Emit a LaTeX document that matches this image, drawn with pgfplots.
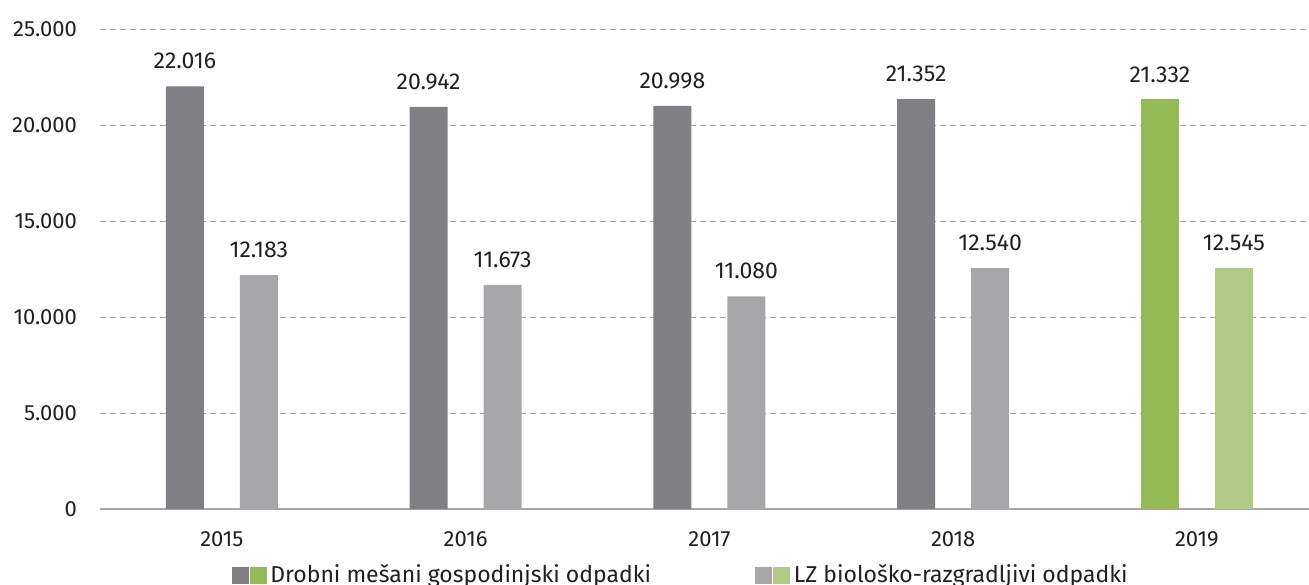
\documentclass[border=0pt]{standalone}
\usepackage{fontspec}
\setmainfont{Fira Sans}
\usepackage{pgfplots}
\pgfplotsset{compat=1.18}

\definecolor{darkgr}{HTML}{808084}
\definecolor{lightgr}{HTML}{A7A7AA}
\definecolor{greenA}{HTML}{94BB56}
\definecolor{greenB}{HTML}{B0C986}
\definecolor{txt}{HTML}{231F20}

\begin{document}
\begin{tikzpicture}
\begin{axis}[
  scale only axis, width=604.5pt, height=240pt,
  xmin=-0.5, xmax=4.46, ymin=0, ymax=25000,
  ybar, bar width=19pt,
  axis lines*=left,
  y axis line style={draw=none},
  x axis line style={draw=black!35, line width=0.8pt},
  major tick length=0pt,
  xtick={0,1,2,3,4}, xticklabels={2015,2016,2017,2018,2019},
  ytick distance=5000,
  scaled y ticks=false,
  yticklabel style={/pgf/number format/fixed, /pgf/number format/1000 sep={.},
    /pgf/number format/assume math mode=true, xshift=-8pt},
  ymajorgrids, grid style={densely dashed, black!35, line width=0.4pt},
  tick label style={font=\fontsize{11}{13}\selectfont, text=txt},
  xticklabel style={yshift=-7.5pt},
  point meta=explicit symbolic,
  nodes near coords,
  every node near coord/.append style={font=\fontsize{11.5}{13}\selectfont, text=txt, yshift=5pt},
  legend style={at={(0.1085,-0.1375)}, anchor=west, draw=none, inner sep=0pt,
    font=\fontsize{11.5}{13}\selectfont, text=txt, legend columns=2,
    /tikz/every even column/.append style={column sep=50pt}},
  legend cell align=left,
]
\addplot[fill=darkgr, draw=none, bar shift=-18.5pt, forget plot] coordinates
  {(0,22016) [22.016] (1,20942) [20.942] (2,20998) [20.998] (3,21352) [21.352]};
\addplot[fill=greenA, draw=none, bar shift=-18.5pt, forget plot] coordinates
  {(4,21332) [21.332]};
\addplot[fill=lightgr, draw=none, bar shift=18.5pt, forget plot] coordinates
  {(0,12183) [12.183] (1,11673) [11.673] (2,11080) [11.080] (3,12540) [12.540]};
\addplot[fill=greenB, draw=none, bar shift=18.5pt, forget plot] coordinates
  {(4,12545) [12.545]};
\addlegendimage{legend image code/.code={
  \fill[darkgr] (0pt,-4pt) rectangle (8pt,4pt);
  \fill[greenA] (9pt,-4pt) rectangle (17pt,4pt);}}
\addlegendentry{Drobni mešani gospodinjski odpadki}
\addlegendimage{legend image code/.code={
  \fill[lightgr] (0pt,-4pt) rectangle (8pt,4pt);
  \fill[greenB] (9pt,-4pt) rectangle (17pt,4pt);}}
\addlegendentry{LZ biološko-razgradljivi odpadki}
\end{axis}
\pgfresetboundingbox
\useasboundingbox ([xshift=-50pt,yshift=-37.5pt]current axis.south west)
  rectangle ([yshift=14.5pt]current axis.north east);
\end{tikzpicture}
\end{document}
